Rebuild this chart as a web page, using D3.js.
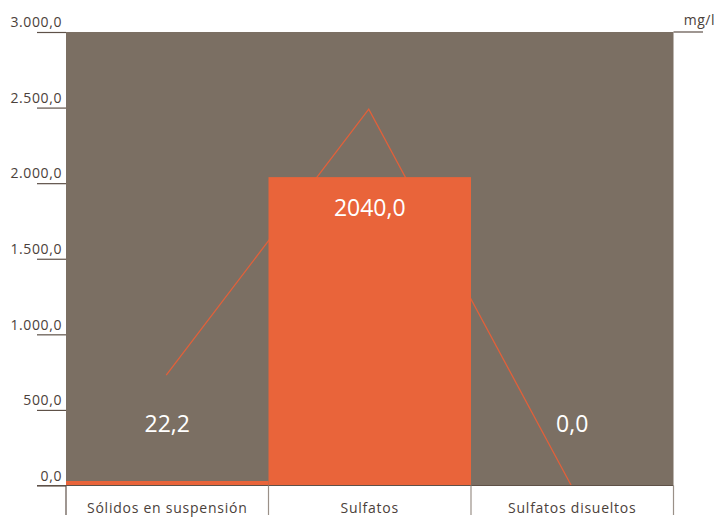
<!DOCTYPE html>
<html>
<head>
<meta charset="utf-8">
<script src="https://cdn.jsdelivr.net/npm/d3@7"></script>
<style>
  html, body { margin: 0; padding: 0; background: #ffffff; }
  svg { display: block; font-family: "Open Sans", "Noto Sans", sans-serif; }
</style>
</head>
<body>
<svg id="chart" width="719" height="519"></svg>
<script>
// Concentraciones medidas (mg/l)
const categories = ["Sólidos en suspensión", "Sulfatos", "Sulfatos disueltos"];
const barValues = [22.2, 2040.0, 0.0];
const barLabels = ["22,2", "2040,0", "0,0"];
// Línea de referencia
const lineValues = [730, 2490, 0];
const yTicks = [0, 500, 1000, 1500, 2000, 2500, 3000];
const tickLabels = ["0,0", "500,0", "1.000,0", "1.500,0", "2.000,0", "2.500,0", "3.000,0"];
const unitLabel = "mg/l";

const svg = d3.select("#chart");
const plotLeft = 66, plotRight = 673.5, plotTop = 32, plotBottom = 485.5;

const x = d3.scaleBand().domain(categories).range([plotLeft, plotRight]).padding(0);
const y = d3.scaleLinear().domain([0, 3000]).range([plotBottom, plotTop]);

const brown = "#7b6f63";
const orange = "#e9643a";
const textCol = "#4b413a";
const ruleCol = "#5e5148";

// Fondo del área de trazado
svg.append("rect")
  .attr("x", plotLeft).attr("y", plotTop)
  .attr("width", plotRight - plotLeft).attr("height", plotBottom - plotTop)
  .attr("fill", brown);

// Línea
const line = d3.line()
  .x((d, i) => x(categories[i]) + x.bandwidth() / 2 - 1)
  .y(d => y(d));
svg.append("path")
  .datum(lineValues)
  .attr("d", line)
  .attr("fill", "none")
  .attr("stroke", "#e2603a")
  .attr("stroke-width", 1.3);

// Barras
svg.selectAll("rect.bar")
  .data(barValues)
  .join("rect")
  .attr("class", "bar")
  .attr("x", (d, i) => x(categories[i]))
  .attr("width", x.bandwidth())
  .attr("y", d => Math.min(y(d), plotBottom - (d > 0 ? 4.5 : 0)))
  .attr("height", d => d > 0 ? Math.max(plotBottom - y(d), 4.5) : 0)
  .attr("fill", orange);

// Eje Y: marcas y etiquetas
const yAxis = d3.axisLeft(y)
  .tickValues(yTicks)
  .tickSize(29)
  .tickFormat((d, i) => tickLabels[i]);
const gy = svg.append("g")
  .attr("transform", `translate(${plotLeft},0)`)
  .call(yAxis);
gy.select(".domain").remove();
gy.selectAll(".tick line").attr("stroke", ruleCol).attr("stroke-width", 1.2);
gy.selectAll(".tick text")
  .attr("x", -4)
  .attr("dy", "-0.38em")
  .attr("fill", textCol)
  .attr("font-size", "14px")
  .attr("letter-spacing", "0.6px")
  .attr("font-family", "\"Open Sans\", sans-serif");

// Eje X: línea base, separadores y categorías
svg.append("line")
  .attr("x1", 37).attr("x2", plotRight)
  .attr("y1", plotBottom).attr("y2", plotBottom)
  .attr("stroke", ruleCol).attr("stroke-width", 1.2);

const seps = categories.map(c => x(c)).concat([plotRight]);
svg.selectAll("line.sep")
  .data(seps)
  .join("line")
  .attr("class", "sep")
  .attr("x1", d => d).attr("x2", d => d)
  .attr("y1", plotBottom).attr("y2", 515)
  .attr("stroke", (d, i) => i === 0 ? ruleCol : "#9a9088")
  .attr("stroke-width", 1.2);

svg.selectAll("text.cat")
  .data(categories)
  .join("text")
  .attr("class", "cat")
  .attr("x", d => x(d) + x.bandwidth() / 2)
  .attr("y", 513)
  .attr("text-anchor", "middle")
  .attr("fill", textCol)
  .attr("font-size", "14px")
  .attr("letter-spacing", "0.75px")
  .text(d => d);

// Etiquetas de valor
svg.selectAll("text.val")
  .data(barValues)
  .join("text")
  .attr("class", "val")
  .attr("x", (d, i) => x(categories[i]) + x.bandwidth() / 2)
  .attr("y", d => d > 1000 ? y(d) + 38.5 : 432)
  .attr("text-anchor", "middle")
  .attr("fill", "#ffffff")
  .attr("font-size", "23px")
  .text((d, i) => barLabels[i]);

// Unidad
svg.append("line")
  .attr("x1", plotRight).attr("x2", 703)
  .attr("y1", plotTop).attr("y2", plotTop)
  .attr("stroke", ruleCol).attr("stroke-width", 1.2);
svg.append("text")
  .attr("x", 715).attr("y", 25)
  .attr("text-anchor", "end")
  .attr("fill", textCol)
  .attr("font-size", "14px")
  .attr("letter-spacing", "0.5px")
  .text(unitLabel);
</script>
</body>
</html>
